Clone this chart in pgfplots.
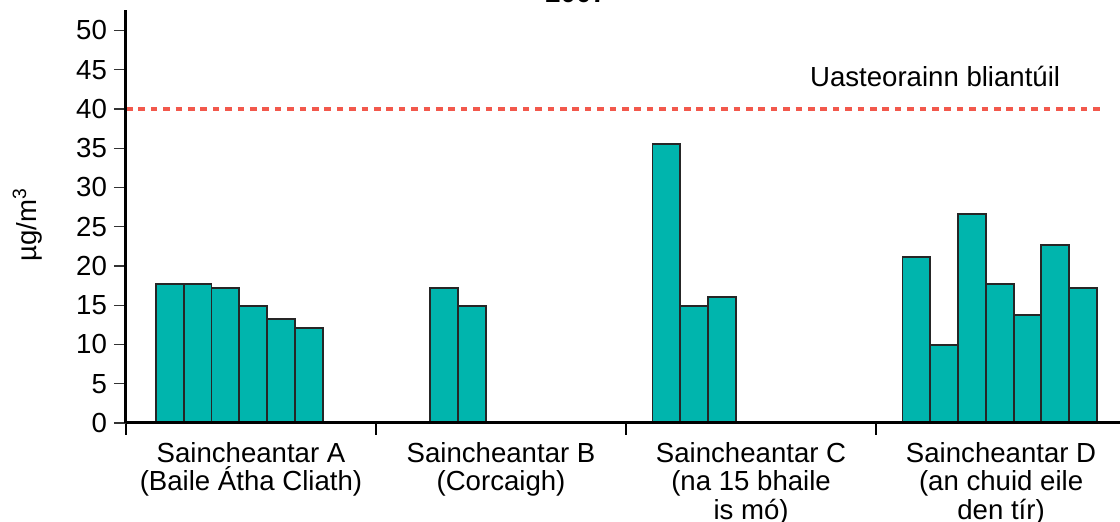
\documentclass[border=0pt]{standalone}
\usepackage{fontspec}
\setmainfont{Liberation Sans}
\usepackage{pgfplots}
\pgfplotsset{compat=1.18}
\definecolor{barteal}{RGB}{0,181,173}
\definecolor{limred}{RGB}{242,88,76}
\begin{document}
\begin{tikzpicture}
\begin{axis}[
  scale only axis,
  width=497pt, height=206.5pt,
  xmin=0, xmax=35.78, ymin=0, ymax=52.6,
  axis lines*=left,
  axis line style={line width=1.5pt},
  axis on top,
  tick align=outside,
  major tick length=6pt,
  minor tick length=6pt,
  ytick={0,5,...,50},
  xtick={4.5,13.5,22.5,31.5},
  xticklabels={{Saincheantar A\\(Baile Átha Cliath)},{Saincheantar B\\(Corcaigh)},{Saincheantar C\\(na 15 bhaile\\is mó)},{Saincheantar D\\(an chuid eile\\den tír)}},
  minor xtick={0,9,18,27},
  major x tick style={draw=none},
  minor x tick style={draw=black, line width=1pt},
  ytick style={draw=black!80, line width=0.6pt},
  xticklabel style={align=center, font=\fontsize{13.8}{14.3}\selectfont},
  yticklabel style={font=\fontsize{13.8}{14.3}\selectfont},
  /pgf/number format/assume math mode=true,
  ylabel={µg/m\textsuperscript{3}},
  ylabel style={at={(axis description cs:-0.09,0.48)}, anchor=base, rotate=0, font=\fontsize{13.8}{14.3}\selectfont},
  clip=false,
]
\addplot[ybar, bar width=1, fill=barteal, draw=black!85, line width=0.9pt] coordinates {
  (1.58,17.7) (2.58,17.7) (3.58,17.2) (4.58,14.9) (5.58,13.2) (6.58,12.1)
  (11.45,17.2) (12.45,14.9)
  (19.45,35.5) (20.45,14.9) (21.45,16.0)
  (28.45,21.1) (29.45,9.9) (30.45,26.6) (31.45,17.7) (32.45,13.8) (33.45,22.7) (34.45,17.2)
};
\addplot[limred, line width=1.6pt, dash pattern=on 3.3pt off 2.9pt] coordinates {(0,40) (35.24,40)};
\node[anchor=base west, font=\fontsize{13.8}{14.3}\selectfont] at (axis cs:24.37,42.8) {Uasteorainn bliantúil};
\node[anchor=base, font=\bfseries\fontsize{13.8}{14.3}\selectfont] at (axis cs:16.2,53.5) {2007};
\end{axis}
\pgfresetboundingbox
\path (-63pt,-49.5pt) rectangle (497pt,211.5pt);
\end{tikzpicture}
\end{document}
